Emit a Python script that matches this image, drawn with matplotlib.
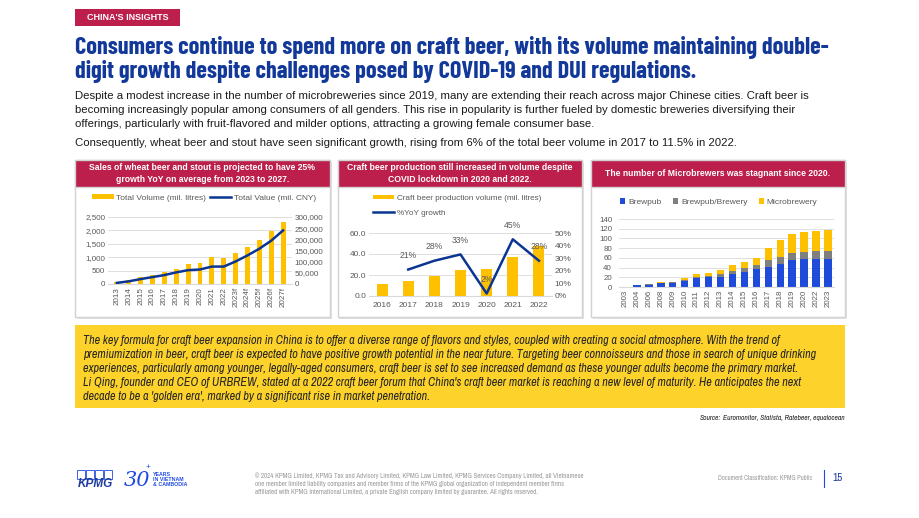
import numpy as np
import matplotlib
matplotlib.use("Agg")
import matplotlib.pyplot as plt
from matplotlib import font_manager as fm
from matplotlib.patches import Rectangle, Patch
from matplotlib.lines import Line2D
from matplotlib.ticker import FuncFormatter, MultipleLocator

# ---------------- data ----------------
wheat_years = ['2013', '2014', '2015', '2016', '2017', '2018', '2019', '2020', '2021', '2022',
               '2023f', '2024f', '2025f', '2026f', '2027f']
wheat_volume = [75, 160, 260, 350, 460, 570, 730, 770, 1000, 970, 1170, 1390, 1650, 1960, 2320]
wheat_value = [5000, 12000, 22000, 31000, 40000, 52000, 62000, 65000, 78000, 78000,
               101000, 128000, 158000, 194000, 240000]

prod_years = ['2016', '2017', '2018', '2019', '2020', '2021', '2022']
prod_volume = [11.7, 14.2, 18.9, 25.2, 25.9, 37.2, 48.0]
prod_growth = [np.nan, 21, 28, 33, 2, 45, 28]

micro_years = ['2003', '2004', '2006', '2008', '2009', '2010', '2011', '2012', '2013', '2014',
               '2015', '2016', '2017', '2018', '2019', '2020', '2022', '2023']
brewpub = [1, 4, 5, 8, 9, 13, 19, 21, 21, 26, 31, 37, 41, 48, 55, 58, 58, 58]
brewpub_brewery = [0, 0, 1, 1, 1, 2, 1, 1, 5, 7, 8, 9, 15, 14, 14, 14, 16, 16]
microbrewery = [0, 1, 1, 1, 1, 3, 7, 7, 10, 12, 12, 14, 24, 35, 40, 41, 41, 43]

# ---------------- style ----------------
names = {f.name for f in fm.fontManager.ttflist}


def pick(cands, default):
    for c in cands:
        if c in names:
            return c
    return default


SANS = pick(['Liberation Sans', 'Arimo'], 'DejaVu Sans')
TITLEF = pick(['Barlow Condensed', 'Roboto Condensed', 'Archivo Narrow', 'Asap Condensed'], SANS)
NARROW = pick(['Archivo Narrow', 'Roboto Condensed', 'Barlow Semi Condensed', 'Asap Condensed'], SANS)
plt.rcParams['font.family'] = [SANS, 'DejaVu Sans']

CRIMSON = '#BC1F4C'
NAVY = '#0B3592'
TITLE_BLUE = '#12389A'
YELLOW = '#FFC000'
BLUE3 = '#1F4BDB'
GRAY3 = '#7F7F7F'
TICK = '#595959'
GRID = '#D9D9D9'

W, H = 920, 518
fig = plt.figure(figsize=(W / 100, H / 100), dpi=100)
fig.patch.set_facecolor('white')
renderer = fig.canvas.get_renderer()


def R(x, y, w, h):
    return [x / W, 1 - (y + h) / H, w / W, h / H]


def P(x, y):
    return (x / W, 1 - y / H)


def rect(x, y, w, h, z=-1, **kw):
    fig.add_artist(Rectangle(P(x, y + h), w / W, h / H, transform=fig.transFigure, zorder=z, **kw))


def text(x, y, s, **kw):
    return fig.text(*P(x, y), s, **kw)


def fit(t, w):
    bb = t.get_window_extent(renderer)
    t.set_fontsize(t.get_fontsize() * w / bb.width)
    return t.get_fontsize()


# ---------------- header ----------------
rect(75, 9, 105, 17, facecolor=CRIMSON, edgecolor='none')
text(127.5, 17.5, "CHINA'S INSIGHTS", color='white', fontweight='bold', ha='center', va='center', fontsize=6.5)

t1 = text(75, 54, "Consumers continue to spend more on craft beer, with its volume maintaining double-",
          color=TITLE_BLUE, fontweight='bold', family=TITLEF, fontsize=20, va='baseline', ha='left')
fs = fit(t1, 753)
text(75, 78, "digit growth despite challenges posed by COVID-19 and DUI regulations.",
     color=TITLE_BLUE, fontweight='bold', family=TITLEF, fontsize=fs, va='baseline', ha='left')

body = ["Despite a modest increase in the number of microbreweries since 2019, many are extending their reach across major Chinese cities. Craft beer is",
        "becoming increasingly popular among consumers of all genders. This rise in popularity is further fueled by domestic breweries diversifying their",
        "offerings, particularly with fruit-flavored and milder options, attracting a growing female consumer base."]
tb = text(75, 96, body[0], color='#1A1A1A', fontsize=8, va='center', ha='left')
fsb = fit(tb, 739)
text(75, 110, body[1], color='#1A1A1A', fontsize=fsb, va='center', ha='left')
text(75, 124, body[2], color='#1A1A1A', fontsize=fsb, va='center', ha='left')
text(75, 143, "Consequently, wheat beer and stout have seen significant growth, rising from 6% of the total beer volume in 2017 to 11.5% in 2022.",
     color='#1A1A1A', fontsize=fsb, va='center', ha='left')

# ---------------- panels ----------------
panels = [(75, 255, ["Sales of wheat beer and stout is projected to have 25%",
                     "growth YoY on average from 2023 to 2027."]),
          (338, 244, ["Craft beer production still increased in volume despite",
                      "COVID lockdown in 2020 and 2022."]),
          (591, 254, ["The number of Microbrewers was stagnant since 2020."])]
hfs = None
for px, pw, lines in panels:
    rect(px + 1.5, 161.5, pw, 157, facecolor='#E4E2E2', edgecolor='none', z=-3)
    rect(px, 160, pw, 157, facecolor='white', edgecolor='#D3D1D1', linewidth=1.0, z=-2)
    rect(px, 160, pw, 27, facecolor=CRIMSON, edgecolor='#D3D1D1', linewidth=1.0, z=-1)
    cx = px + pw / 2
    if len(lines) == 2:
        ta = text(cx, 168, lines[0], color='white', fontweight='bold', ha='center', va='center', fontsize=6.5)
        if hfs is None:
            hfs = fit(ta, 225)
        else:
            ta.set_fontsize(hfs)
        text(cx, 179, lines[1], color='white', fontweight='bold', ha='center', va='center', fontsize=hfs)
    else:
        text(cx, 174, lines[0], color='white', fontweight='bold', ha='center', va='center', fontsize=hfs)


def style_axis(ax, fsz):
    for s in ['top', 'right', 'left']:
        ax.spines[s].set_visible(False)
    ax.spines['bottom'].set_color(GRID)
    ax.spines['bottom'].set_linewidth(0.8)
    ax.tick_params(axis='both', length=0, labelsize=fsz, colors=TICK, pad=2)
    ax.grid(axis='y', color=GRID, linewidth=0.6)
    ax.set_axisbelow(True)
    ax.patch.set_alpha(0)


# ---------------- chart 1 ----------------
ax1 = fig.add_axes(R(108, 217, 184, 67))
x1 = np.arange(len(wheat_years))
ax1.bar(x1, wheat_volume, width=0.42, color=YELLOW, zorder=2)
ax1.set_xlim(-0.75, len(wheat_years) - 0.25)
ax1.set_ylim(0, 2500)
ax1.yaxis.set_major_locator(MultipleLocator(500))
ax1.yaxis.set_major_formatter(FuncFormatter(lambda v, p: f'{v:,.0f}'))
ax1.set_xticks(x1)
ax1.set_xticklabels(wheat_years, rotation=90)
style_axis(ax1, 5.8)
ax1b = ax1.twinx()
ax1b.plot(x1, wheat_value, color=NAVY, linewidth=1.8, zorder=3)
ax1b.set_ylim(0, 300000)
ax1b.yaxis.set_major_locator(MultipleLocator(50000))
ax1b.yaxis.set_major_formatter(FuncFormatter(lambda v, p: f'{v:,.0f}'))
for s in ['top', 'right', 'left', 'bottom']:
    ax1b.spines[s].set_visible(False)
ax1b.tick_params(axis='y', length=0, labelsize=5.8, colors=TICK, pad=2)
fig.legend(handles=[Patch(facecolor=YELLOW, label='Total Volume (mil. litres)'),
                    Line2D([], [], color=NAVY, linewidth=1.8, label='Total Value (mil. CNY)')],
           loc='center', bbox_to_anchor=P(204, 198), bbox_transform=fig.transFigure, ncol=2,
           frameon=False, fontsize=6.0, handlelength=2.6, handleheight=0.5, handletextpad=0.3,
           columnspacing=0.4, labelcolor=TICK)

# ---------------- chart 2 ----------------
ax2 = fig.add_axes(R(369, 233, 183, 63))
x2 = np.arange(len(prod_years))
ax2.bar(x2, prod_volume, width=0.42, color=YELLOW, zorder=2)
ax2.set_xlim(-0.5, len(prod_years) - 0.5)
ax2.set_ylim(0, 60)
ax2.yaxis.set_major_locator(MultipleLocator(20))
ax2.yaxis.set_major_formatter(FuncFormatter(lambda v, p: f'{v:.1f}'))
ax2.set_xticks(x2)
ax2.set_xticklabels(prod_years)
style_axis(ax2, 6.0)
ax2.tick_params(axis='x', pad=4)
ax2b = ax2.twinx()
g = np.array(prod_growth, dtype=float) / 100
ax2b.plot(x2, g, color=NAVY, linewidth=1.8, zorder=3)
ax2b.set_ylim(0, 0.5)
ax2b.yaxis.set_major_locator(MultipleLocator(0.1))
ax2b.yaxis.set_major_formatter(FuncFormatter(lambda v, p: f'{v * 100:.0f}%'))
for s in ['top', 'right', 'left', 'bottom']:
    ax2b.spines[s].set_visible(False)
ax2b.tick_params(axis='y', length=0, labelsize=6.0, colors=TICK, pad=2)
for i, v in enumerate(prod_growth):
    if not np.isnan(v):
        ax2b.annotate(f'{v:.0f}%', (i, v / 100), xytext=(0, 7), textcoords='offset points',
                      ha='center', va='bottom', fontsize=6.2, color=TICK, zorder=4)
fig.legend(handles=[Patch(facecolor=YELLOW, label='Craft beer production volume (mil. litres)'),
                    Line2D([], [], color=NAVY, linewidth=1.8, label='%YoY growth')],
           loc='upper left', bbox_to_anchor=P(371, 193), bbox_transform=fig.transFigure, ncol=1,
           frameon=False, fontsize=5.9, handlelength=2.6, handleheight=0.5, handletextpad=0.4,
           labelspacing=0.9, labelcolor=TICK, borderaxespad=0, borderpad=0.2)

# ---------------- chart 3 ----------------
ax3 = fig.add_axes(R(619, 219, 215, 68))
x3 = np.arange(len(micro_years))
b1 = np.array(brewpub)
b2 = np.array(brewpub_brewery)
b3 = np.array(microbrewery)
ax3.bar(x3, b1, width=0.62, color=BLUE3, zorder=2, label='Brewpub')
ax3.bar(x3, b2, bottom=b1, width=0.62, color=GRAY3, zorder=2, label='Brewpub/Brewery')
ax3.bar(x3, b3, bottom=b1 + b2, width=0.62, color=YELLOW, zorder=2, label='Microbrewery')
ax3.set_xlim(-0.5, len(micro_years) - 0.5)
ax3.set_ylim(0, 140)
ax3.yaxis.set_major_locator(MultipleLocator(20))
ax3.set_xticks(x3)
ax3.set_xticklabels(micro_years, rotation=90)
style_axis(ax3, 5.7)
ax3.tick_params(axis='y', pad=5)
fig.legend(handles=[Patch(facecolor=BLUE3, label='Brewpub'),
                    Patch(facecolor=GRAY3, label='Brewpub/Brewery'),
                    Patch(facecolor=YELLOW, label='Microbrewery')],
           loc='center', bbox_to_anchor=P(719, 202), bbox_transform=fig.transFigure, ncol=3,
           frameon=False, fontsize=6.0, handlelength=0.6, handleheight=0.6, handletextpad=0.4,
           columnspacing=1.3, labelcolor=TICK)

# ---------------- yellow box ----------------
rect(75, 325, 770, 83, facecolor='#FDD22A', edgecolor='none')
ylines = ["The key formula for craft beer expansion in China is to offer a diverse range of flavors and styles, coupled with creating a social atmosphere. With the trend of",
          "premiumization in beer, craft beer is expected to have positive growth potential in the near future. Targeting beer connoisseurs and those in search of unique drinking",
          "experiences, particularly among younger, legally-aged consumers, craft beer is set to see increased demand as these younger adults become the primary market.",
          "Li Qing, founder and CEO of URBREW, stated at a 2022 craft beer forum that China's craft beer market is reaching a new level of maturity. He anticipates the next",
          "decade to be a 'golden era', marked by a significant rise in market penetration."]
ys = [340, 354, 368, 383, 397]
ty = text(83, ys[1], ylines[1], color='#262626', style='italic', family=NARROW, fontsize=7.5, va='center', ha='left')
fsy = fit(ty, 739)
for i, (yy, s) in enumerate(zip(ys, ylines)):
    if i != 1:
        text(83, yy, s, color='#262626', style='italic', family=NARROW, fontsize=fsy, va='center', ha='left')

# source
ts = text(845, 418, "Euromonitor, Statista, Ratebeer, equalocean", color='#1E1E1E', style='italic',
          family=NARROW, fontsize=5.4, ha='right', va='center')
bb = ts.get_window_extent(renderer)
text(845 - bb.width - 2, 418, "Source:", color='#1E1E1E', style='italic', fontweight='bold',
     family=NARROW, fontsize=5.4, ha='right', va='center')

# ---------------- footer ----------------
for i in range(4):
    rect(77 + i * 9, 470, 8, 9, facecolor='none', edgecolor='#1E49E2', linewidth=0.6, z=1)
text(95, 484, "KPMG", color='#1E3C9E', fontweight='bold', style='italic', fontsize=8.5, ha='center', va='center')
text(137, 481, "30", color='#1E49E2', style='italic', fontsize=15, ha='center', va='center', family='DejaVu Serif')
text(148, 468, "+", color='#1E49E2', fontsize=6, ha='center', va='center')
text(153, 474, "YEARS", color='#1E49E2', fontsize=3.8, fontweight='bold', ha='left', va='center')
text(153, 479.5, "IN VIETNAM", color='#1E49E2', fontsize=3.8, fontweight='bold', ha='left', va='center')
text(153, 485, "& CAMBODIA", color='#1E49E2', fontsize=3.8, fontweight='bold', ha='left', va='center')

copy = ["\u00a9 2024 KPMG Limited, KPMG Tax and Advisory Limited, KPMG Law Limited, KPMG Services Company Limited, all Vietnamese",
        "one member limited liability companies and member firms of the KPMG global organization of independent member firms",
        "affiliated with KPMG International Limited, a private English company limited by guarantee. All rights reserved."]
tc = text(255, 476, copy[0], color='#9A9A9A', family=NARROW, fontsize=4, ha='left', va='center')
fsc = fit(tc, 331)
text(255, 484, copy[1], color='#9A9A9A', family=NARROW, fontsize=fsc, ha='left', va='center')
text(255, 492, copy[2], color='#9A9A9A', family=NARROW, fontsize=fsc, ha='left', va='center')
td = text(812, 478, "Document Classification: KPMG Public", color='#9A9A9A', family=NARROW, fontsize=4.5,
          ha='right', va='center')
fit(td, 94)
fig.add_artist(Line2D([824 / W, 824 / W], [1 - 470 / H, 1 - 487 / H], transform=fig.transFigure,
                      color='#1E49E2', linewidth=0.8))
text(838, 478, "15", color='#1E3C9E', fontsize=8, ha='center', va='center', family=NARROW)

fig.savefig('out.png', dpi=100, facecolor='white')
